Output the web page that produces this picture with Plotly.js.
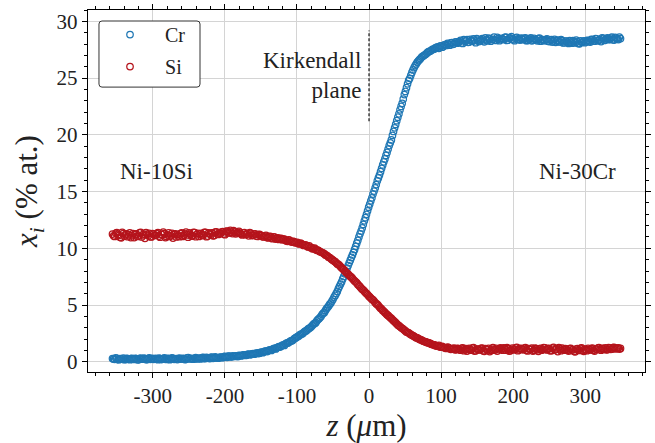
<!DOCTYPE html>
<html>
<head>
<meta charset="utf-8">
<script src="https://cdn.plot.ly/plotly-3.0.1.min.js"></script>
<style>html,body{margin:0;padding:0;background:#fff;}#chart{width:655px;height:443px;}</style>
</head>
<body>
<div id="chart"></div>
<script>
// Position z (µm), first set of measurement points
const zPos = [
-356,-353,-350,-347,-344,-341,-338,-335,-332,-329,
-326,-323,-320,-317,-314,-311,-308,-305,-302,-299,
-296,-293,-290,-287,-284,-281,-278,-275,-272,-269,
-266,-263,-260,-257,-254,-251,-248,-245,-242,-239,
-236,-233,-230,-227,-224,-221,-218,-215,-212,-209,
-206,-203,-200,-197,-194,-191,-188,-185,-182,-179,
-176,-173,-170,-167,-164,-161,-158,-155,-152,-149,
-146,-143,-140,-137,-134,-131,-128,-125,-122,-119,
-116,-113,-110,-107,-104,-101,-98,-95,-92,-89,
-86,-83,-80,-77,-74,-71,-68,-65,-62,-59,
-56,-53,-50,-47,-44,-41,-38,-35,-32,-29,
-26,-23,-20,-17,-14,-11,-8,-5,-2,1,
4,7,10,13,16,19,22,25,28,31,
34,37,40,43,46,49,52,55,58,61,
64,67,70,73,76,79,82,85,88,91,
94,97,100,103,106,109,112,115,118,121,
124,127,130,133,136,139,142,145,148,151,
154,157,160,163,166,169,172,175,178,181,
184,187,190,193,196,199,202,205,208,211,
214,217,220,223,226,229,232,235,238,241,
244,247,250,253,256,259,262,265,268,271,
274,277,280,283,286,289,292,295,298,301,
304,307,310,313,316,319,322,325,328,331,
334,337,340,343,346,349
];
const crValues = [
0.28,0.22,0.31,0.19,0.26,0.33,0.21,0.27,0.18,0.30,
0.24,0.29,0.17,0.32,0.23,0.27,0.20,0.34,0.25,0.22,
0.30,0.19,0.27,0.24,0.35,0.21,0.28,0.23,0.31,0.26,
0.20,0.33,0.25,0.29,0.22,0.36,0.27,0.24,0.31,0.28,
0.33,0.26,0.38,0.30,0.35,0.29,0.41,0.34,0.37,0.32,
0.42,0.36,0.47,0.40,0.51,0.44,0.48,0.53,0.46,0.55,
0.57,0.62,0.58,0.67,0.64,0.72,0.70,0.78,0.76,0.85,
0.88,0.95,0.98,1.06,1.10,1.18,1.24,1.33,1.38,1.49,
1.58,1.66,1.78,1.86,2.02,2.15,2.26,2.41,2.50,2.68,
2.80,2.95,3.10,3.32,3.45,3.72,3.90,4.18,4.35,4.68,
4.92,5.18,5.50,5.85,6.20,6.65,7.05,7.52,8.00,8.48,
8.95,9.42,9.90,10.45,11.00,11.52,12.10,12.70,13.30,13.90,
14.45,15.05,15.62,16.20,16.75,17.35,17.88,18.45,19.05,19.55,
20.30,20.92,21.55,22.20,22.78,23.55,24.15,24.80,25.25,25.72,
26.10,26.40,26.62,26.85,26.98,27.12,27.30,27.38,27.52,27.58,
27.70,27.62,27.85,27.78,27.95,28.05,27.90,28.12,28.02,28.20,
28.15,28.32,28.05,28.25,28.40,28.18,28.30,28.45,28.12,28.35,
28.28,28.48,28.20,28.38,28.52,28.25,28.42,28.35,28.58,28.30,
28.50,28.40,28.62,28.35,28.55,28.45,28.30,28.58,28.42,28.52,
28.38,28.55,28.32,28.45,28.28,28.50,28.36,28.48,28.25,28.40,
28.32,28.45,28.22,28.38,28.28,28.15,28.35,28.20,28.30,28.12,
28.25,28.05,28.18,28.30,28.10,28.22,28.02,28.15,28.28,28.20,
28.30,28.18,28.40,28.25,28.45,28.35,28.22,28.50,28.38,28.55,
28.42,28.60,28.35,28.52,28.40,28.48
];
const siValues = [
11.25,11.05,11.38,11.15,10.92,11.30,11.20,11.02,11.35,11.12,
10.95,11.28,11.08,11.40,11.18,10.88,11.22,11.32,11.00,11.25,
11.15,11.38,10.98,11.20,11.30,11.05,11.35,11.12,10.90,11.28,
11.22,11.02,11.36,11.15,11.42,10.98,11.25,11.10,11.38,11.20,
11.05,11.32,11.18,11.40,11.08,11.28,11.35,11.12,11.45,11.22,
11.30,11.48,11.20,11.52,11.35,11.42,11.55,11.28,11.40,11.32,
11.18,11.38,11.25,11.10,11.32,11.15,11.28,11.05,11.22,11.12,
11.00,11.15,10.92,11.05,10.85,10.98,10.90,10.78,10.88,10.80,
10.72,10.62,10.70,10.55,10.58,10.48,10.42,10.45,10.32,10.30,
10.18,10.22,10.05,9.98,9.90,9.85,9.70,9.62,9.50,9.38,
9.22,9.10,8.95,8.82,8.62,8.50,8.28,8.12,7.88,7.72,
7.52,7.35,7.12,6.95,6.72,6.50,6.32,6.10,5.92,5.72,
5.52,5.35,5.12,4.95,4.72,4.52,4.35,4.15,3.98,3.82,
3.62,3.45,3.25,3.10,2.95,2.80,2.62,2.55,2.40,2.30,
2.18,2.10,1.98,1.92,1.80,1.75,1.68,1.62,1.52,1.48,
1.40,1.45,1.32,1.28,1.22,1.30,1.18,1.12,1.20,1.08,
1.15,1.02,1.22,1.08,0.95,1.18,1.05,1.25,0.98,1.12,
1.05,1.20,0.92,1.10,1.18,1.00,1.25,1.08,0.95,1.15,
1.12,1.22,1.02,1.15,0.98,1.20,1.10,1.28,1.05,1.18,
1.08,1.25,0.96,1.12,1.20,1.02,1.15,0.92,1.18,1.10,
1.22,1.05,1.15,0.98,1.28,1.08,0.90,1.12,1.20,1.02,
1.10,0.95,1.18,1.05,0.88,1.15,1.00,1.22,0.92,1.08,
1.18,1.05,1.20,0.95,1.12,1.25,1.02,1.15,1.22,1.08,
1.20,1.12,1.28,1.15,1.22,1.18
];

// Second, interleaved set of measurement points
const zPos2 = [
-354.5,-351.5,-348.5,-345.5,-342.5,-339.5,-336.5,-333.5,-330.5,-327.5,
-324.5,-321.5,-318.5,-315.5,-312.5,-309.5,-306.5,-303.5,-300.5,-297.5,
-294.5,-291.5,-288.5,-285.5,-282.5,-279.5,-276.5,-273.5,-270.5,-267.5,
-264.5,-261.5,-258.5,-255.5,-252.5,-249.5,-246.5,-243.5,-240.5,-237.5,
-234.5,-231.5,-228.5,-225.5,-222.5,-219.5,-216.5,-213.5,-210.5,-207.5,
-204.5,-201.5,-198.5,-195.5,-192.5,-189.5,-186.5,-183.5,-180.5,-177.5,
-174.5,-171.5,-168.5,-165.5,-162.5,-159.5,-156.5,-153.5,-150.5,-147.5,
-144.5,-141.5,-138.5,-135.5,-132.5,-129.5,-126.5,-123.5,-120.5,-117.5,
-114.5,-111.5,-108.5,-105.5,-102.5,-99.5,-96.5,-93.5,-90.5,-87.5,
-84.5,-81.5,-78.5,-75.5,-72.5,-69.5,-66.5,-63.5,-60.5,-57.5,
-54.5,-51.5,-48.5,-45.5,-42.5,-39.5,-36.5,-33.5,-30.5,-27.5,
-24.5,-21.5,-18.5,-15.5,-12.5,-9.5,-6.5,-3.5,-0.5,2.5,
5.5,8.5,11.5,14.5,17.5,20.5,23.5,26.5,29.5,32.5,
35.5,38.5,41.5,44.5,47.5,50.5,53.5,56.5,59.5,62.5,
65.5,68.5,71.5,74.5,77.5,80.5,83.5,86.5,89.5,92.5,
95.5,98.5,101.5,104.5,107.5,110.5,113.5,116.5,119.5,122.5,
125.5,128.5,131.5,134.5,137.5,140.5,143.5,146.5,149.5,152.5,
155.5,158.5,161.5,164.5,167.5,170.5,173.5,176.5,179.5,182.5,
185.5,188.5,191.5,194.5,197.5,200.5,203.5,206.5,209.5,212.5,
215.5,218.5,221.5,224.5,227.5,230.5,233.5,236.5,239.5,242.5,
245.5,248.5,251.5,254.5,257.5,260.5,263.5,266.5,269.5,272.5,
275.5,278.5,281.5,284.5,287.5,290.5,293.5,296.5,299.5,302.5,
305.5,308.5,311.5,314.5,317.5,320.5,323.5,326.5,329.5,332.5,
335.5,338.5,341.5,344.5,347.5
];
const crValues2 = [
0.25,0.34,0.20,0.29,0.23,0.18,0.31,0.24,0.28,0.21,
0.31,0.19,0.27,0.25,0.33,0.20,0.29,0.22,0.30,0.26,
0.23,0.32,0.20,0.29,0.25,0.31,0.18,0.34,0.22,0.27,
0.29,0.24,0.31,0.20,0.34,0.26,0.30,0.23,0.36,0.25,
0.30,0.36,0.28,0.40,0.33,0.38,0.31,0.43,0.35,0.40,
0.38,0.45,0.41,0.49,0.43,0.52,0.47,0.50,0.56,0.52,
0.60,0.56,0.66,0.63,0.70,0.67,0.76,0.73,0.83,0.80,
0.93,0.90,1.03,1.00,1.15,1.13,1.28,1.30,1.45,1.44,
1.64,1.70,1.84,1.92,2.08,2.20,2.34,2.44,2.60,2.72,
2.90,3.02,3.22,3.38,3.60,3.80,4.02,4.28,4.52,4.80,
5.08,5.35,5.70,6.02,6.45,6.85,7.30,7.75,8.25,8.72,
9.20,9.65,10.18,10.70,11.28,11.80,12.42,13.00,13.62,14.18,
14.78,15.32,15.95,16.45,17.05,17.62,18.18,18.75,19.30,19.95,
20.62,21.25,21.85,22.50,23.15,23.82,24.50,24.98,25.50,25.92,
26.25,26.52,26.72,26.92,27.05,27.22,27.35,27.45,27.55,27.68,
27.75,27.82,27.72,27.92,27.88,28.00,28.10,27.98,28.18,28.08,
28.22,28.10,28.38,28.28,28.15,28.42,28.25,28.32,28.48,28.22,
28.40,28.30,28.55,28.28,28.45,28.38,28.60,28.32,28.48,28.40,
28.45,28.58,28.32,28.50,28.65,28.38,28.52,28.44,28.35,28.48,
28.50,28.30,28.42,28.55,28.35,28.40,28.28,28.52,28.38,28.30,
28.40,28.25,28.35,28.18,28.42,28.30,28.20,28.38,28.10,28.25,
28.15,28.30,28.08,28.22,28.35,28.05,28.28,28.18,28.12,28.32,
28.22,28.42,28.30,28.48,28.28,28.40,28.55,28.32,28.48,28.38,
28.52,28.38,28.58,28.45,28.62
];
const siValues2 = [
11.10,11.32,11.22,10.98,11.40,11.08,11.28,11.18,10.95,11.30,
11.20,11.05,11.35,11.00,11.25,11.38,11.10,11.02,11.30,11.15,
11.30,11.08,11.25,11.42,10.95,11.18,11.05,11.32,11.20,11.00,
11.10,11.30,11.05,11.28,11.18,11.35,11.08,11.40,11.02,11.32,
11.25,11.12,11.40,11.02,11.35,11.18,11.10,11.42,11.25,11.38,
11.42,11.25,11.50,11.38,11.58,11.30,11.45,11.35,11.50,11.25,
11.35,11.20,11.30,11.38,11.12,11.25,11.08,11.20,11.15,11.02,
11.08,10.95,11.02,10.90,11.00,10.82,10.92,10.85,10.75,10.82,
10.65,10.75,10.60,10.62,10.50,10.52,10.38,10.40,10.25,10.28,
10.12,10.08,9.95,10.02,9.82,9.78,9.65,9.58,9.42,9.32,
9.18,9.02,8.88,8.72,8.58,8.38,8.20,8.00,7.82,7.62,
7.45,7.22,7.05,6.82,6.62,6.40,6.22,6.02,5.80,5.62,
5.45,5.22,5.05,4.82,4.65,4.45,4.25,4.08,3.90,3.72,
3.55,3.35,3.18,3.02,2.88,2.72,2.60,2.48,2.35,2.25,
2.12,2.05,1.95,1.85,1.78,1.70,1.65,1.55,1.50,1.42,
1.38,1.30,1.35,1.25,1.18,1.25,1.10,1.15,1.05,1.18,
1.08,1.18,0.98,1.15,1.10,1.02,1.20,0.95,1.12,1.05,
1.18,0.98,1.15,1.05,0.90,1.12,1.02,1.18,1.08,1.22,
1.02,1.15,1.25,0.95,1.10,1.05,1.22,0.98,1.15,1.08,
1.18,1.02,1.15,1.08,0.95,1.20,1.05,1.12,1.02,1.25,
1.08,1.18,0.98,1.20,1.05,1.15,1.25,0.98,1.10,1.15,
1.02,1.15,1.05,0.92,1.12,1.05,1.18,1.02,1.12,0.98,
1.05,1.15,1.02,1.12,1.20,1.08,1.18,1.10,1.05,1.25,
1.10,1.25,1.15,1.20,1.12
];

const seriesNames = ['Cr', 'Si'];
const xTickVals = [-300, -200, -100, 0, 100, 200, 300];
const xTickText = ['-300', '-200', '-100', '0', '100', '200', '300'];
const yTickVals = [0, 5, 10, 15, 20, 25, 30];
const yTickText = ['0', '5', '10', '15', '20', '25', '30'];
const kirkendallX = [0, 0];
const kirkendallY = [21.2, 29.2];

const FONT = '"Liberation Serif", "Times New Roman", serif';
const BLUE = '#1f77b4';
const RED = '#b5141c';

const traces = [
  {
    x: zPos.concat(zPos2), y: crValues.concat(crValues2), name: seriesNames[0], type: 'scatter', mode: 'markers',
    marker: {symbol: 'circle-open', size: 6.5, color: BLUE, line: {width: 1.25, color: BLUE}},
    legendgroup: 'a'
  },
  {
    x: zPos.concat(zPos2), y: siValues.concat(siValues2), name: seriesNames[1], type: 'scatter', mode: 'markers',
    marker: {symbol: 'circle-open', size: 6.5, color: RED, line: {width: 1.25, color: RED}},
    legendgroup: 'b'
  },
  {
    x: kirkendallX, y: kirkendallY, type: 'scatter', mode: 'lines', showlegend: false,
    line: {color: '#111', width: 1.2, dash: '3px,2px'}, hoverinfo: 'skip'
  }
];

const axisCommon = {
  showline: true, linecolor: '#000', linewidth: 1.2, mirror: 'ticks',
  ticks: 'outside', ticklen: 5, tickwidth: 1, tickcolor: '#000',
  showgrid: true, gridcolor: '#d4d4d4', gridwidth: 1,
  zeroline: false,
  tickfont: {family: FONT, size: 21, color: '#222'}
};

const legendBox = 'M0.0251,0.9696 L0.1957,0.9696 Q0.2011,0.9696 0.2011,0.9613 L0.2011,0.7953 Q0.2011,0.787 0.1957,0.787 L0.0251,0.787 Q0.0197,0.787 0.0197,0.7953 L0.0197,0.9613 Q0.0197,0.9696 0.0251,0.9696 Z';

const layout = {
  width: 655, height: 443,
  margin: {l: 88, r: 10, t: 10, b: 71},
  paper_bgcolor: '#fff', plot_bgcolor: '#fff',
  font: {family: FONT, color: '#222'},
  showlegend: true,
  legend: {
    x: 0.0126, y: 0.986, xanchor: 'left', yanchor: 'top',
    bgcolor: 'rgba(0,0,0,0)', borderwidth: 0,
    font: {family: FONT, size: 20, color: '#222'},
    itemwidth: 60, tracegroupgap: 3
  },
  shapes: [
    {type: 'path', xref: 'paper', yref: 'paper', path: legendBox, layer: 'above',
     fillcolor: '#fff', line: {color: '#333', width: 1}}
  ],
  xaxis: Object.assign({}, axisCommon, {
    range: [-390, 383],
    tickmode: 'array', tickvals: xTickVals, ticktext: xTickText,
    minor: {dtick: 20, tick0: 0, ticks: 'outside', ticklen: 3, tickcolor: '#000', showgrid: false},
    title: {text: '<i>z</i> (<i>μ</i>m)', font: {family: FONT, size: 31, color: '#222'}, standoff: 5}
  }),
  yaxis: Object.assign({}, axisCommon, {
    range: [-0.9, 31],
    tickmode: 'array', tickvals: yTickVals, ticktext: yTickText,
    minor: {dtick: 1, tick0: 0, ticks: 'outside', ticklen: 3, tickcolor: '#000', showgrid: false},
    title: {text: '<i>x<sub>i</sub></i> (% at.)', font: {family: FONT, size: 31, color: '#222'}, standoff: 9}
  }),
  annotations: [
    {x: -295, y: 16.8, xref: 'x', yref: 'y', text: 'Ni-10Si', showarrow: false,
     font: {family: FONT, size: 23, color: '#222'}, xanchor: 'center', yanchor: 'middle'},
    {x: 289, y: 16.8, xref: 'x', yref: 'y', text: 'Ni-30Cr', showarrow: false,
     font: {family: FONT, size: 23, color: '#222'}, xanchor: 'center', yanchor: 'middle'},
    {x: -9, y: 25.2, xref: 'x', yref: 'y', text: 'Kirkendall<br>plane', showarrow: false, align: 'right',
     font: {family: FONT, size: 23, color: '#222'}, xanchor: 'right', yanchor: 'middle'}
  ]
};

Plotly.newPlot('chart', traces, layout, {displayModeBar: false, staticPlot: true});
</script>
</body>
</html>
